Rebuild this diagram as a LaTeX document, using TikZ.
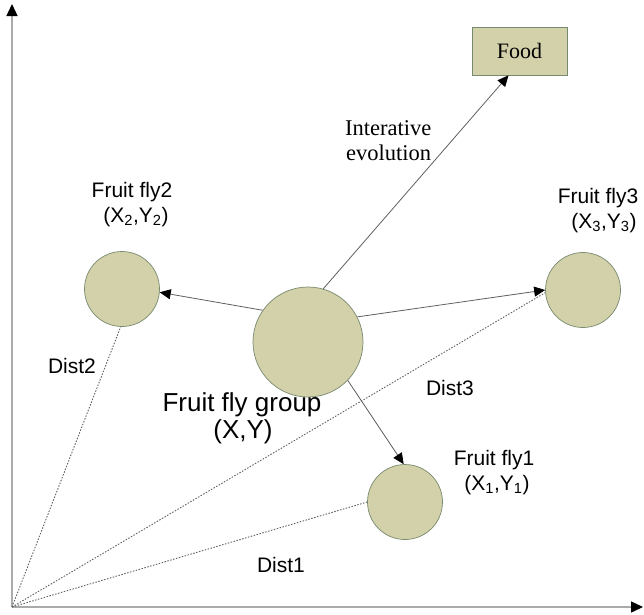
\documentclass[tikz,border=0pt]{standalone}
\usepackage{fontspec}
\setmainfont{Liberation Sans}
\newfontfamily\serifff{Liberation Serif}
\usetikzlibrary{arrows.meta}
\definecolor{olive}{RGB}{211,209,170}
\definecolor{olivebd}{RGB}{120,138,110}
\definecolor{axisgray}{RGB}{170,170,170}
\definecolor{linegray}{RGB}{95,95,95}
\begin{document}
\begin{tikzpicture}[x=1pt,y=-1pt,
  fly/.style={circle,draw=olivebd,fill=olive,line width=0.7pt,inner sep=0pt},
  lbl/.style={inner sep=0pt,font=\fontsize{21}{25}\selectfont},
  bigl/.style={inner sep=0pt,font=\fontsize{26}{30}\selectfont},
  serl/.style={inner sep=0pt,font=\serifff\fontsize{22.5}{25}\selectfont},
  axis/.style={draw=axisgray,line width=1.4pt,-{Triangle[length=12pt,width=11pt,fill=black,color=black]}},
  move/.style={draw=linegray,line width=0.8pt,-{Triangle[length=11pt,width=10pt,color=black]}},
  dist/.style={draw=linegray,line width=0.9pt,dash pattern=on 1.5pt off 1.5pt}]
\useasboundingbox (0,0) rectangle (644,614);
\coordinate (o) at (12,607);
\coordinate (ytop) at (12,4);
\coordinate (xend) at (643,607);
\draw[axis] (o) -- (ytop);
\draw[axis] (o) -- (xend);

\node[draw=olivebd,fill=olive,line width=0.7pt,minimum width=95pt,minimum height=48pt,inner sep=0pt,font=\serifff\fontsize{22}{26}\selectfont] (food) at (519.5,51) {Food};

\node[fly,minimum size=110pt] (grp) at (308,342) {};
\node[fly,minimum size=75pt] (f2) at (122,289) {};
\node[fly,minimum size=75pt] (f3) at (583,290) {};
\node[fly,minimum size=75pt] (f1) at (405,502) {};

\draw[move] (grp.145) -- (f2.-5);
\draw[move] (grp.27) -- (f3.180);
\draw[move] (grp.-44) -- (f1.92);
\draw[move] (grp.74) -- ([xshift=-11pt]food.south);

\draw[dist] (o) -- (f2.-92);
\draw[dist] (o) -- (f3.184);
\draw[dist] (o) -- (f1.180);

\node[serl,anchor=base west] (ie1) at (345,135) {Interative};
\node[serl,anchor=base west] (ie2) at (346,160) {evolution};

\node[lbl,anchor=base] (f2a) at (132,197) {Fruit fly2};
\node[lbl,anchor=base] (f2b) at (136,222) {(X\textsubscript{2},Y\textsubscript{2})};
\node[lbl,anchor=base] (f3a) at (598,203) {Fruit fly3};
\node[lbl,anchor=base] (f3b) at (604,228) {(X\textsubscript{3},Y\textsubscript{3})};
\node[lbl,anchor=base] (f1a) at (494,465) {Fruit fly1};
\node[lbl,anchor=base] (f1b) at (497,490) {(X\textsubscript{1},Y\textsubscript{1})};
\node[bigl,anchor=base] (ga) at (242,411) {Fruit fly group};
\node[bigl,anchor=base] (gb) at (243,438) {(X,Y)};

\node[lbl,anchor=base] (d2) at (72,373) {Dist2};
\node[lbl,anchor=base] (d3) at (450,395) {Dist3};
\node[lbl,anchor=base] (d1) at (281,572) {Dist1};
\end{tikzpicture}
\end{document}
